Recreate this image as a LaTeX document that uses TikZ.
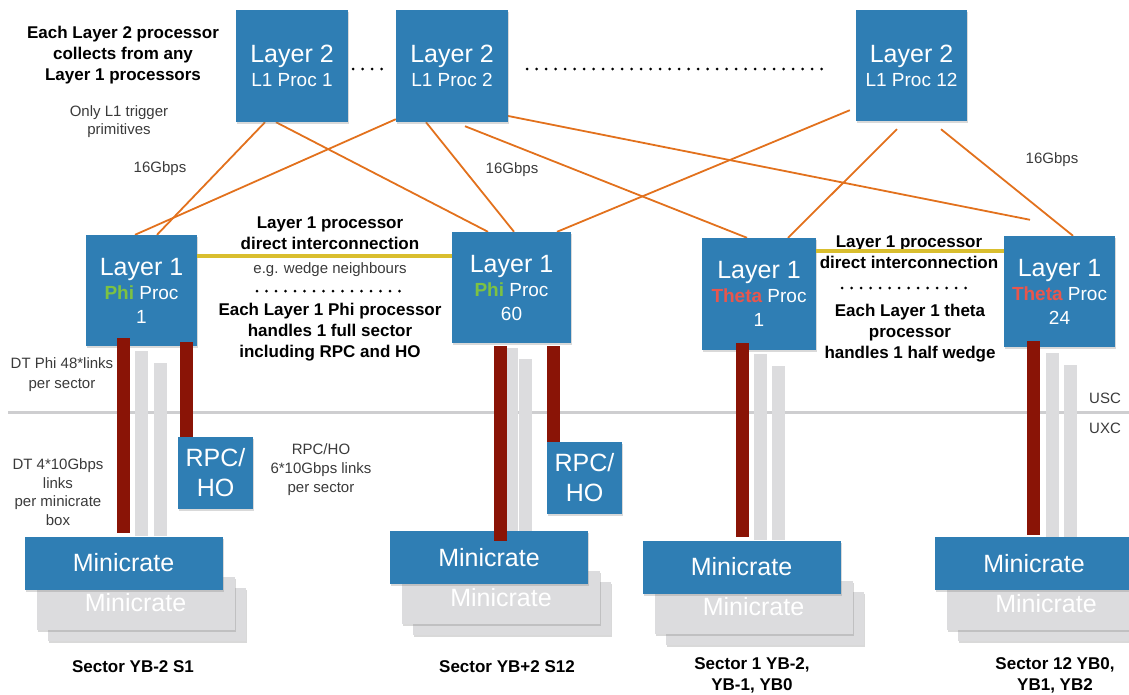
\documentclass[tikz,border=0pt]{standalone}
\usepackage{fontspec}
\setmainfont{Liberation Sans}
\usetikzlibrary{positioning,shadows,backgrounds,calc}
\definecolor{boxBlue}{HTML}{2F7EB4}
\definecolor{crateGrey}{HTML}{DCDCDE}
\definecolor{linkRed}{HTML}{8A1406}
\definecolor{linkOrange}{HTML}{E2711D}
\definecolor{linkYellow}{HTML}{D9BE2E}
\definecolor{phiGreen}{HTML}{7DC242}
\definecolor{thetaRed}{HTML}{E8564D}
\definecolor{noteGrey}{HTML}{3A3A3A}

\begin{document}
\begin{tikzpicture}[
    x=1pt, y=-1pt,
    proc/.style={fill=boxBlue, text=white, align=center, inner sep=0pt, minimum width=111, minimum height=111, drop shadow={shadow xshift=1pt, shadow yshift=-2pt, opacity=0.3}, font=\fontsize{19}{24}\selectfont},
    rpcbox/.style={proc, minimum width=75, minimum height=72, font=\fontsize{25}{30}\selectfont},
    crate/.style={proc, minimum width=198, minimum height=53, font=\fontsize{25}{30}\selectfont},
    crateback/.style={crate, fill=crateGrey},
    boldnote/.style={align=center, font=\bfseries\fontsize{17}{21}\selectfont},
    plainnote/.style={align=center, text=noteGrey, font=\fontsize{15}{19}\selectfont},
    l2link/.style={draw=linkOrange, line width=1.8pt},
    l1link/.style={draw=linkYellow, line width=3.5pt},
    fibre/.style={draw=linkRed, line width=13pt},
    spare/.style={draw=crateGrey, line width=13pt},
    dotrow/.style={line width=3pt, line cap=round, dash pattern=on 0pt off 9.5pt},
    levelline/.style={draw=crateGrey!85!gray, line width=3pt}
  ]
    \useasboundingbox (0,0) rectangle (1129,694);

    \node[proc, minimum width=112, minimum height=112] (l2a) at (292,66) {{\fontsize{25}{26}\selectfont Layer 2}\\L1 Proc 1};
    \node[proc, minimum width=112, minimum height=112] (l2b) at (452,66) {{\fontsize{25}{26}\selectfont Layer 2}\\L1 Proc 2};
    \node[proc] (l2c) at (911.5,65.5) {{\fontsize{25}{26}\selectfont Layer 2}\\L1 Proc 12};

    \node[proc] (phi1) at (141.5,290.5) {{\fontsize{25}{24}\selectfont Layer 1}\\{\bfseries\color{phiGreen}Phi} Proc\\1};
    \node[proc, minimum width=119] (phi60) at (511.5,287.5) {{\fontsize{25}{24}\selectfont Layer 1}\\{\bfseries\color{phiGreen}Phi} Proc\\60};
    \node[proc, minimum width=114, minimum height=112] (th1) at (759,294) {{\fontsize{25}{24}\selectfont Layer 1}\\{\bfseries\color{thetaRed}Theta} Proc\\1};
    \node[proc] (th24) at (1059.5,291.5) {{\fontsize{25}{24}\selectfont Layer 1}\\{\bfseries\color{thetaRed}Theta} Proc\\24};

    \node[rpcbox] (rpc1) at (215.5,473) {RPC/\\HO};
    \node[rpcbox] (rpc2) at (584.5,478) {RPC/\\HO};

    \node[crateback] (mc1c) at (146.5,614) {};
    \node[crateback] (mc1b) at (135.5,603) {Minicrate};
    \node[crate] (mc1a) at (123.5,563) {Minicrate};
    \node[crateback] (mc2c) at (512,608.5) {};
    \node[crateback] (mc2b) at (501,597.5) {Minicrate};
    \node[crate] (mc2a) at (489,557.5) {Minicrate};
    \node[crateback] (mc3c) at (764.5,618) {};
    \node[crateback] (mc3b) at (753.5,607) {Minicrate};
    \node[crate] (mc3a) at (741.5,567) {Minicrate};
    \node[crateback] (mc4c) at (1057,614.5) {};
    \node[crateback] (mc4b) at (1046,603.5) {Minicrate};
    \node[crate] (mc4a) at (1034,563.5) {Minicrate};

    \node[boldnote] (l2note) at (123,55) {Each Layer 2 processor\\collects from any\\Layer 1 processors};
    \node[plainnote, font=\fontsize{15}{18}\selectfont] (trignote) at (119,122) {Only L1 trigger\\primitives};
    \node[plainnote] (rate1) at (160,169) {16Gbps};
    \node[plainnote] (rate2) at (512,170) {16Gbps};
    \node[plainnote] (rate3) at (1052,160) {16Gbps};

    \node[boldnote] (phiconn) at (330,233) {Layer 1 processor\\direct interconnection};
    \node[plainnote] (wedgenote) at (330,270) {e.g. wedge neighbours};
    \node[boldnote] (phinote) at (330,332) {Each Layer 1 Phi processor\\handles 1 full sector\\including RPC and HO};
    \node[boldnote] (thconn) at (909,252) {Layer 1 processor\\direct interconnection};
    \node[boldnote] (thnote) at (910,333) {Each Layer 1 theta\\processor\\handles 1 half wedge};

    \node[plainnote, font=\fontsize{15}{20}\selectfont] (dtnote) at (62,375) {DT Phi 48*links\\per sector};
    \node[plainnote, font=\fontsize{15}{18.5}\selectfont] (dtlinks) at (58,492) {DT 4*10Gbps\\links\\per minicrate\\box};
    \node[plainnote] (rpcnote) at (321,470) {RPC/HO\\6*10Gbps links\\per sector};
    \node[plainnote] (usc) at (1105,398) {USC};
    \node[plainnote] (uxc) at (1105,428) {UXC};

    \node[boldnote] (sec1) at (133,667) {Sector YB-2 S1};
    \node[boldnote] (sec2) at (507,667) {Sector YB+2 S12};
    \node[boldnote] (sec3) at (752,675) {Sector 1 YB-2,\\YB-1, YB0};
    \node[boldnote] (sec4) at (1055,675) {Sector 12 YB0,\\YB1, YB2};

    \begin{scope}[on background layer]
      \draw[levelline] (8,412) -- (1129,412);
      \draw[spare] ([yshift=-5]phi1.south) -- (phi1.south |- mc1a.north);
      \draw[spare] ([xshift=18.5,yshift=-17]phi1.south) -- ([xshift=18.5]phi1.south |- mc1a.north);
      \draw[spare] ([yshift=-5]phi60.south) -- (phi60.south |- mc2a.north);
      \draw[spare] ([xshift=14,yshift=-16]phi60.south) -- ([xshift=14]phi60.south |- mc2a.north);
      \draw[spare] ([xshift=1.5,yshift=-4]th1.south) -- ([xshift=1.5]th1.south |- mc3a.north);
      \draw[spare] ([xshift=19.5,yshift=-16]th1.south) -- ([xshift=19.5]th1.south |- mc3a.north);
      \draw[spare] ([xshift=-7.5,yshift=-6]th24.south) -- ([xshift=-7.5]th24.south |- mc4a.north);
      \draw[spare] ([xshift=10.5,yshift=-18]th24.south) -- ([xshift=10.5]th24.south |- mc4a.north);

      \draw[l2link] ([xshift=-27]l2a.south) -- ([xshift=15.5]phi1.north);
      \draw[l2link] ([xshift=-16]l2a.south) -- ([xshift=-23.5]phi60.north);
      \draw[l2link] ([yshift=3]l2b.south west) -- ([xshift=-6.5]phi1.north);
      \draw[l2link] ([xshift=-26]l2b.south) -- ([xshift=2.5]phi60.north);
      \draw[l2link] ([xshift=13,yshift=-4]l2b.south) -- ([xshift=-12]th1.north);
      \draw[l2link] ([xshift=-9,yshift=8]l2b.south east) -- ([xshift=-29.5,yshift=16]th24.north);
      \draw[l2link] ([xshift=-6,yshift=11]l2c.south west) -- ([xshift=45.5]phi60.north);
      \draw[l2link] ([xshift=-14.5,yshift=-8]l2c.south) -- ([xshift=29]th1.north);
      \draw[l2link] ([xshift=29.5,yshift=-8]l2c.south) -- ([xshift=13.5]th24.north);
    \end{scope}

    \draw[l1link] ([yshift=34.5]phi1.east) -- ([yshift=34.5]phi1.east -| phi60.west);
    \draw[l1link] ([yshift=43]th1.east) -- ([yshift=43]th1.east -| th24.west);

    \draw[fibre] ([xshift=-18,yshift=8]phi1.south) -- ([xshift=-18,yshift=3]phi1.south |- mc1a.north);
    \draw[fibre] ([xshift=45,yshift=4]phi1.south) -- ([xshift=45]phi1.south |- rpc1.north);
    \draw[fibre] ([xshift=-11.5,yshift=-3]phi60.south) -- ([xshift=-11.5,yshift=-10]phi60.south |- mc2a.north);
    \draw[fibre] ([xshift=41.5,yshift=-3]phi60.south) -- ([xshift=41.5]phi60.south |- rpc2.north);
    \draw[fibre] ([xshift=-17,yshift=7]th1.south) -- ([xshift=-17,yshift=3]th1.south |- mc3a.north);
    \draw[fibre] ([xshift=-26,yshift=6]th24.south) -- ([xshift=-26,yshift=2]th24.south |- mc4a.north);

    \draw[dotrow] ([xshift=5,yshift=-3]l2a.east) -- ([xshift=-9,yshift=-3]l2b.west);
    \draw[dotrow] ([xshift=19,yshift=-3]l2b.east) -- ([xshift=-28,yshift=-3.5]l2c.west);
    \draw[dotrow] (257,291) -- (408,291);
    \draw[dotrow] (842,288) -- (973,288);
  \end{tikzpicture}
\end{document}
